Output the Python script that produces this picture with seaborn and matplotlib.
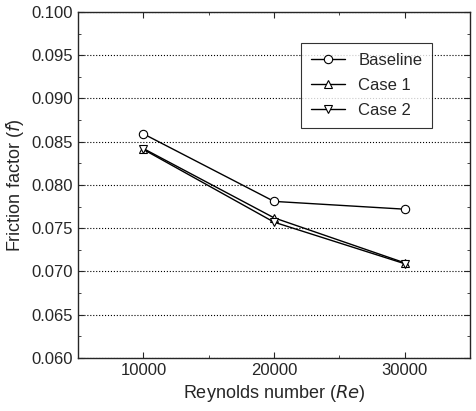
import matplotlib
matplotlib.use("Agg")
import matplotlib.pyplot as plt
import seaborn as sns
import pandas as pd
from matplotlib.ticker import MultipleLocator

reynolds = [10000, 20000, 30000]
baseline = [0.0859, 0.0781, 0.0772]
case1 = [0.0842, 0.0762, 0.0710]
case2 = [0.0841, 0.0757, 0.0709]
series = ["Baseline", "Case 1", "Case 2"]

df = pd.DataFrame({
    "Re": reynolds * 3,
    "f": baseline + case1 + case2,
    "series": [s for s in series for _ in reynolds],
})

sns.set_style("ticks")
plt.rcParams['font.family'] = ['Liberation Sans', 'DejaVu Sans']
fig = plt.figure(figsize=(4.77, 4.11), dpi=100)
ax = fig.add_axes([0.164, 0.129, 0.821, 0.842])
sns.lineplot(data=df, x="Re", y="f", hue="series", style="series",
             markers={"Baseline": "o", "Case 1": "^", "Case 2": "v"}, dashes=False,
             palette={s: "black" for s in series}, ax=ax, linewidth=1.0,
             markersize=6, markerfacecolor="white", markeredgecolor="black", markeredgewidth=0.8)
ax.set_xlim(5000, 35000)
ax.set_ylim(0.060, 0.100)
ax.set_xticks(reynolds)
ax.yaxis.set_major_locator(MultipleLocator(0.005))
ax.yaxis.set_minor_locator(MultipleLocator(0.0025))
ax.xaxis.set_minor_locator(MultipleLocator(5000))
ax.yaxis.set_major_formatter(matplotlib.ticker.FormatStrFormatter('%.3f'))
ax.tick_params(direction="in", which="both", right=True, top=True, labelsize=12)
ax.tick_params(which="major", length=4)
ax.tick_params(which="minor", length=2.5)
ax.grid(axis="y", linestyle=":", color="black", linewidth=0.8)
for s in ax.spines.values():
    s.set_linewidth(1.0)
ax.set_xlabel("Reynolds number ($\\it{Re}$)", fontsize=13)
ax.set_ylabel("Friction factor ($\\it{f}$)", fontsize=13)
leg = ax.legend(loc="upper right", bbox_to_anchor=(0.925, 0.935), fontsize=12,
                frameon=True, fancybox=False, edgecolor="black", title=None,
                labelspacing=0.6, borderpad=0.6)
leg.get_frame().set_linewidth(0.8)
fig.savefig("out.png", dpi=100)
